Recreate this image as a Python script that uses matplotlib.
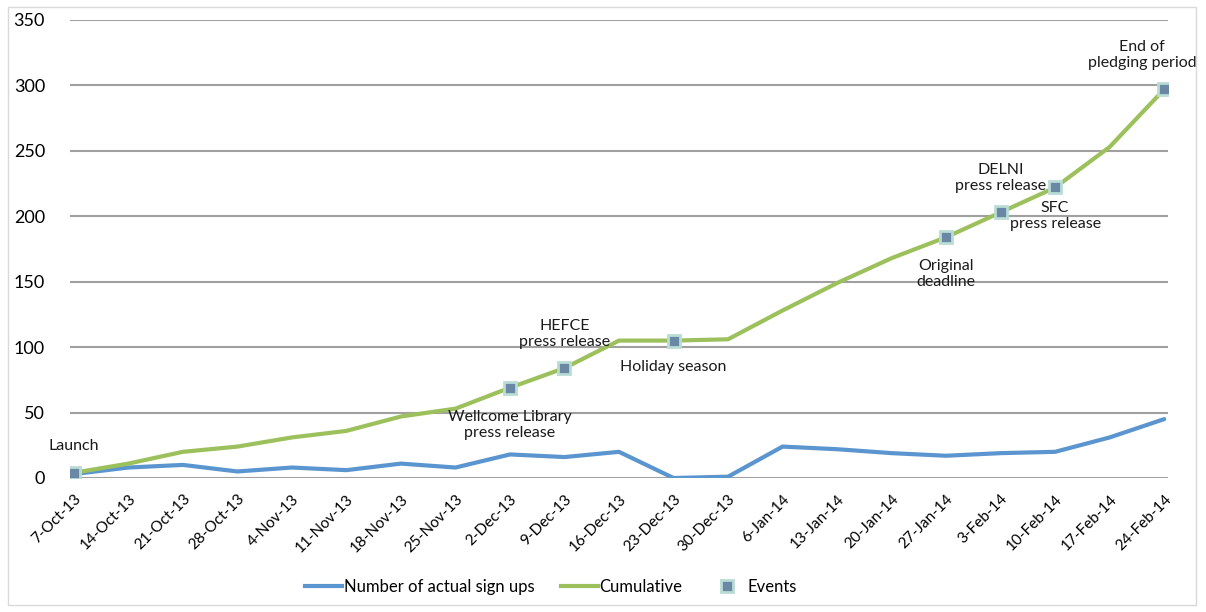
import numpy as np
import matplotlib
matplotlib.use('Agg')
import matplotlib.pyplot as plt
from matplotlib.lines import Line2D

plt.rcParams['font.family'] = ['Lato', 'DejaVu Sans']

#%% data
weeks = ['7-Oct-13', '14-Oct-13', '21-Oct-13', '28-Oct-13', '4-Nov-13', '11-Nov-13',
         '18-Nov-13', '25-Nov-13', '2-Dec-13', '9-Dec-13', '16-Dec-13', '23-Dec-13',
         '30-Dec-13', '6-Jan-14', '13-Jan-14', '20-Jan-14', '27-Jan-14', '3-Feb-14',
         '10-Feb-14', '17-Feb-14', '24-Feb-14']
signups = [3, 8, 10, 5, 8, 6, 11, 8, 18, 16, 20, 0, 1, 24, 22, 19, 17, 19, 20, 31, 45]
cumulative = [4, 11, 20, 24, 31, 36, 47, 53, 69, 84, 105, 105, 106, 128, 149, 168,
              184, 203, 222, 253, 297]

# events: week index, label, text offset (points) and alignment
event_idx = [0, 8, 9, 11, 16, 17, 18, 20]
event_labels = ['Launch', 'Wellcome Library\npress release', 'HEFCE\npress release',
                'Holiday season', 'Original\ndeadline', 'DELNI\npress release',
                'SFC\npress release', 'End of\npledging period']
event_offsets = [(0, 14), (0, -16), (0, 14), (0, -14), (0, -16), (0, 14),
                 (0, -10), (-16, 14)]
event_va = ['bottom', 'top', 'bottom', 'top', 'top', 'bottom', 'top', 'bottom']

blue = '#5b95cf'
green = '#9cc15c'

fig = plt.figure(figsize=(12.06, 6.12), dpi=100)
ax = fig.add_axes([70/1206, 134/612, 1098/1206, 458/612])

x = np.arange(len(weeks))
ax.plot(x, signups, color=blue, lw=3, solid_capstyle='round', zorder=3)
ax.plot(x, cumulative, color=green, lw=3, solid_capstyle='round', zorder=3)

ev_y = [cumulative[i] for i in event_idx]
ax.plot(event_idx, ev_y, ls='none', marker='s', ms=8.5, mfc='#6a88a6',
        mec='#b9dcd5', mew=2, zorder=4)

for i, lab, off, va in zip(event_idx, event_labels, event_offsets, event_va):
    ax.annotate(lab, (i, cumulative[i]), xytext=off, textcoords='offset points',
                ha='center', va=va, fontsize=11.5, color='#1a1a1a',
                linespacing=1.15, zorder=5)

ax.set_xlim(-0.07, len(weeks) - 1 + 0.07)
ax.set_ylim(0, 350)
ax.set_yticks(range(0, 351, 50))
ax.set_xticks(x)
ax.set_xticklabels(weeks, rotation=45, ha='right', rotation_mode='anchor',
                   fontsize=11)
ax.tick_params(axis='y', labelsize=13, length=0, pad=18)
ax.tick_params(axis='x', length=0, pad=10)
ax.yaxis.grid(True, color='#a0a0a0', lw=1.5)
ax.set_axisbelow(True)
for s in ax.spines.values():
    s.set_visible(False)

# chart border
fig.add_artist(plt.Rectangle((8/1206, 7/612), 1188/1206, 598/612, fill=False,
                             ec='#d9d9d9', lw=1, transform=fig.transFigure))

handles = [Line2D([], [], color=blue, lw=3),
           Line2D([], [], color=green, lw=3),
           Line2D([], [], ls='none', marker='s', ms=8.5, mfc='#6a88a6',
                  mec='#b9dcd5', mew=2)]
fig.legend(handles, ['Number of actual sign ups', 'Cumulative', 'Events'],
           loc='center', bbox_to_anchor=(551/1206, 1 - 587/612), ncol=3,
           frameon=False, fontsize=12, handlelength=2.2, handletextpad=0.1,
           columnspacing=1.6)

fig.savefig('out.png', dpi=100)
